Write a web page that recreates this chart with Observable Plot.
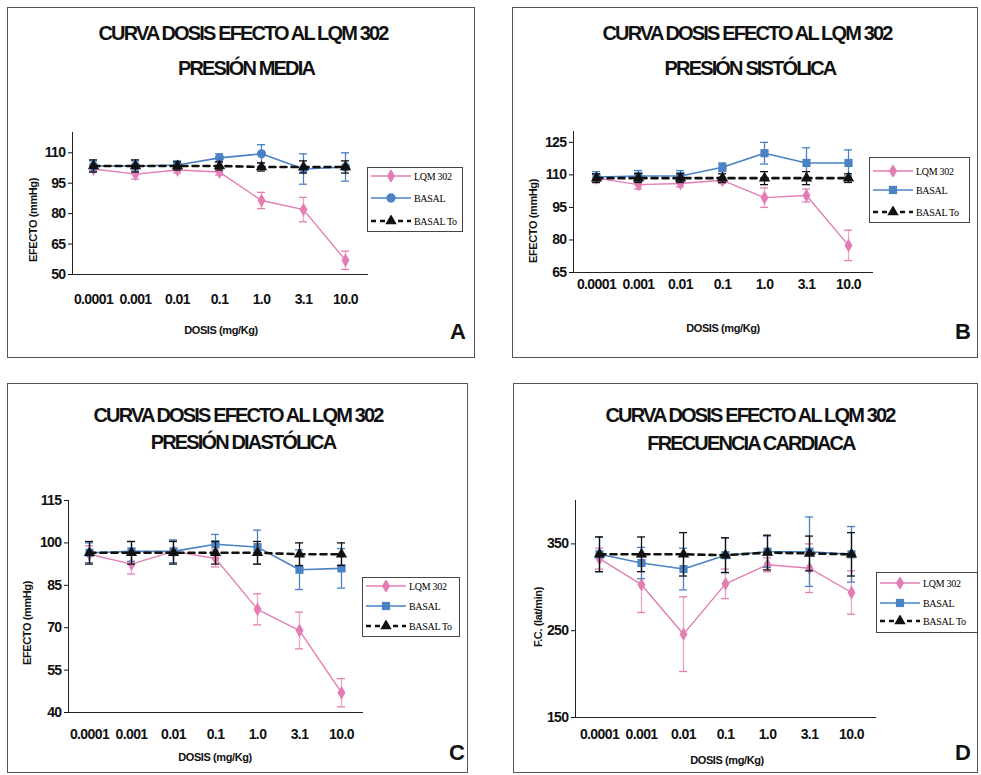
<!DOCTYPE html>
<html><head><meta charset="utf-8">
<script src="https://cdn.jsdelivr.net/npm/d3@7"></script>
<script src="https://cdn.jsdelivr.net/npm/@observablehq/plot@0.6"></script>
<style>
body{margin:0;background:#fff;}
#root{position:relative;width:981px;height:775px;overflow:hidden;font-family:"Liberation Sans",Arial,sans-serif;color:#111;}
.panel{position:absolute;border:1px solid #555;box-sizing:border-box;background:#fff;}
.abs{position:absolute;white-space:nowrap;transform:translate(-50%,-50%);}
.title{font-weight:bold;font-size:20px;letter-spacing:-1.85px;}
.axt{font-weight:bold;font-size:11px;letter-spacing:-0.4px;}
.ylab{transform:translate(-50%,-50%) rotate(-90deg);}
.letter{font-weight:bold;font-size:22px;}
.legend{position:absolute;border:1px solid #444;background:#fff;box-sizing:border-box;}
.legend .row{position:absolute;left:0;height:12px;display:flex;align-items:center;}
.legend .t{font-family:"Liberation Serif","Times New Roman",serif;font-size:10px;letter-spacing:-0.3px;margin-left:2px;color:#000;}
svg.chart{position:absolute;}
</style></head>
<body><div id="root"></div>
<script>
// ---- data ----
const doses = ["0.0001","0.001","0.01","0.1","1.0","3.1","10.0"];
const seriesNames = ["LQM 302","BASAL","BASAL To"];
const titleTop = "CURVA DOSIS EFECTO AL LQM 302";
const subtitles = ["PRESIÓN MEDIA","PRESIÓN SISTÓLICA","PRESIÓN DIASTÓLICA","FRECUENCIA CARDIACA"];
const xTitle = "DOSIS (mg/Kg)";
const yTitles = ["EFECTO (mmHg)","EFECTO (mmHg)","EFECTO (mmHg)","F.C. (lat/min)"];
const panelLetters = ["A","B","C","D"];

// Panel A: presión media
const lqmA = [102, 99.5, 101.5, 100.5, 86.5, 82, 57];
const lqmAErr = [1.5, 2.5, 1.5, 1.5, 4, 6, 4.5];
const basalA = [103.5, 103.5, 104, 107.5, 109.5, 102, 103];
const basalAErr = [2.5, 2.5, 2, 2, 4.5, 7.5, 7];
const toA = [103.5, 103.5, 103.5, 103.5, 103, 103, 103];
const toAErr = [3, 3, 2, 2, 2, 3, 3];
const yTicksA = [50, 65, 80, 95, 110];

// Panel B: presión sistólica
const lqmB = [108.5, 105.5, 106, 107.5, 99.5, 100.5, 77.5];
const lqmBErr = [2, 2, 1.5, 1.5, 4.5, 3, 7];
const basalB = [109, 109.5, 109.5, 113.5, 120, 115.5, 115.5];
const basalBErr = [2.5, 2.5, 2.5, 2, 5, 7, 6];
const toB = [108.5, 108.5, 108.5, 108.5, 108.5, 108.5, 108.5];
const toBErr = [2, 2, 2, 2, 3, 3, 2];
const yTicksB = [65, 80, 95, 110, 125];

// Panel C: presión diastólica
const lqmC = [96, 92.5, 97, 94.5, 76.5, 69, 47];
const lqmCErr = [3, 3.5, 4, 3, 5.5, 6.5, 5];
const basalC = [96.5, 97, 97, 99.5, 98.5, 90.5, 91];
const basalCErr = [3.5, 3.5, 4, 3.5, 6, 7, 7];
const toC = [96.5, 96.5, 96.5, 96.5, 96.5, 96, 96];
const toCErr = [4, 4, 4, 4, 4, 4, 4];
const yTicksC = [40, 55, 70, 85, 100, 115];

// Panel D: frecuencia cardiaca
const lqmD = [333, 303, 246, 304, 326, 322, 294];
const lqmDErr = [12, 32, 43, 17, 8, 28, 25];
const basalD = [338, 328, 321, 337, 341, 341, 338];
const basalDErr = [20, 18, 24, 20, 18, 40, 32];
const toD = [338, 338, 338, 337, 340, 339, 338];
const toDErr = [20, 20, 25, 20, 20, 20, 25];
const yTicksD = [150, 250, 350];

// ---- styles ----
const PINK = "#E37DB4", BLUE = "#4A82C4", BLACK = "#111";
const seriesStyle = [
  {stroke: PINK, width: 1.4, dash: null, symbol: "diamond", r: 4.2},
  {stroke: BLUE, width: 1.6, dash: null, symbol: "square", r: 4.6},
  {stroke: BLACK, width: 2.6, dash: "6,5", symbol: "triangle", r: 4.2}
];

// ---- layout (page coords) ----
const layout = [
  {box:[7,7,475,358], plot:[72,367,132,274], yDomain:[50,120], xPad:20,
   t1:[243,33], t2:[246,68], xt:[221,330], yt:[33,220], letter:[458,332],
   legend:[367,167,463,232], rows:[175,197,220], basalSymbol:"circle"},
  {box:[512,7,978,358], plot:[573,872,131,272], yDomain:[65,130], xPad:7,
   t1:[747,33], t2:[750,68], xt:[723,328], yt:[533,221], letter:[963,332],
   legend:[869,157,970,223], rows:[170,189,211], basalSymbol:"square"},
  {box:[7,383,468,773], plot:[68,362,500,712], yDomain:[40,115], xPad:17,
   t1:[238,415], t2:[243,442], xt:[215,757], yt:[27,623], letter:[457,753],
   legend:[362,577,460,637], rows:[585,605,625], basalSymbol:"square"},
  {box:[513,383,978,773], plot:[575,875,500,717], yDomain:[150,400], xPad:12,
   t1:[750,415], t2:[751,443], xt:[727,760], yt:[538,617], letter:[963,753],
   legend:[876,572,978,633], rows:[582,602,620], basalSymbol:"square"}
];

const panelData = [
  {series:[[lqmA,lqmAErr],[basalA,basalAErr],[toA,toAErr]], ticks:yTicksA},
  {series:[[lqmB,lqmBErr],[basalB,basalBErr],[toB,toBErr]], ticks:yTicksB},
  {series:[[lqmC,lqmCErr],[basalC,basalCErr],[toC,toCErr]], ticks:yTicksC},
  {series:[[lqmD,lqmDErr],[basalD,basalDErr],[toD,toDErr]], ticks:yTicksD}
];

const root = document.getElementById("root");

function addDiv(cls, text, x, y){
  const d = document.createElement("div");
  d.className = "abs " + cls;
  d.textContent = text;
  d.style.left = x + "px"; d.style.top = y + "px";
  root.appendChild(d);
  return d;
}

function swatch(st, symbol){
  const ns = "http://www.w3.org/2000/svg";
  const s = document.createElementNS(ns, "svg");
  s.setAttribute("width", 44); s.setAttribute("height", 12);
  const l = document.createElementNS(ns, "line");
  l.setAttribute("x1", 3); l.setAttribute("x2", 43); l.setAttribute("y1", 6); l.setAttribute("y2", 6);
  l.setAttribute("stroke", st.stroke); l.setAttribute("stroke-width", st.width);
  if (st.dash) l.setAttribute("stroke-dasharray", "5,4");
  s.appendChild(l);
  const sym = d3.symbol().type({circle:d3.symbolCircle, square:d3.symbolSquare, diamond:d3.symbolDiamond, triangle:d3.symbolTriangle}[symbol]).size(st.r*st.r*3.2);
  const p = document.createElementNS(ns, "path");
  p.setAttribute("d", sym()); p.setAttribute("transform", "translate(23,6)");
  p.setAttribute("fill", st.stroke);
  s.appendChild(p);
  return s;
}

layout.forEach((L, k) => {
  const P = panelData[k];
  const pan = document.createElement("div");
  pan.className = "panel";
  pan.style.left = L.box[0] + "px"; pan.style.top = L.box[1] + "px";
  pan.style.width = (L.box[2]-L.box[0]) + "px"; pan.style.height = (L.box[3]-L.box[1]) + "px";
  root.appendChild(pan);

  const W = L.box[2]-L.box[0], H = L.box[3]-L.box[1];
  const marks = [];
  const symbols = ["diamond", L.basalSymbol, "triangle"];
  P.series.forEach(([vals, errs], si) => {
    const st = seriesStyle[si];
    const rows = doses.map((d, i) => ({dose: d, v: vals[i], e: errs[i], s: seriesNames[si]}));
    marks.push(
      Plot.ruleX(rows, {x: "dose", y1: d => d.v - d.e, y2: d => d.v + d.e, stroke: st.stroke, strokeWidth: 1.3, strokeOpacity: si === 0 ? 0.7 : 1}),
      Plot.tickY(rows, {x: "dose", y: d => d.v + d.e, stroke: st.stroke, strokeWidth: 1.3}),
      Plot.tickY(rows, {x: "dose", y: d => d.v - d.e, stroke: st.stroke, strokeWidth: 1.3}),
      Plot.lineY(rows, {x: "dose", y: "v", stroke: st.stroke, strokeWidth: st.width, strokeDasharray: st.dash}),
      Plot.dot(rows, {x: "dose", y: "v", symbol: symbols[si], fill: st.stroke, r: st.r})
    );
  });

  const svg = Plot.plot({
    width: W, height: H,
    marginLeft: L.plot[0]-L.box[0], marginRight: L.box[2]-L.plot[1],
    marginTop: L.plot[2]-L.box[1], marginBottom: L.box[3]-L.plot[3],
    x: {type: "band", domain: doses, paddingInner: 0.8, paddingOuter: 0.4},
    y: {domain: L.yDomain},
    style: {fontFamily: "'Liberation Sans', Arial, sans-serif", fontSize: "14px", fontWeight: "bold", letterSpacing: "-0.6px", color: "#111", background: "transparent", overflow: "visible"},
    marks: [
      Plot.frame({anchor: "left", stroke: "#222"}),
      Plot.frame({anchor: "bottom", stroke: "#222"}),
      Plot.axisX({tickSize: 0, tickPadding: L.xPad, label: null}),
      Plot.axisY({ticks: P.ticks, tickSize: 4, tickPadding: 3, label: null}),
      ...marks
    ]
  });
  svg.classList.add("chart");
  svg.style.left = L.box[0] + "px"; svg.style.top = L.box[1] + "px";
  root.appendChild(svg);

  addDiv("title", titleTop, L.t1[0], L.t1[1]);
  addDiv("title", subtitles[k], L.t2[0], L.t2[1]);
  addDiv("axt", xTitle, L.xt[0], L.xt[1]);
  addDiv("axt ylab", yTitles[k], L.yt[0], L.yt[1]);
  addDiv("letter", panelLetters[k], L.letter[0], L.letter[1]);

  const lg = document.createElement("div");
  lg.className = "legend";
  lg.style.left = L.legend[0] + "px"; lg.style.top = L.legend[1] + "px";
  lg.style.width = (L.legend[2]-L.legend[0]) + "px"; lg.style.height = (L.legend[3]-L.legend[1]) + "px";
  seriesNames.forEach((name, si) => {
    const row = document.createElement("div");
    row.className = "row";
    row.style.top = (L.rows[si] - L.legend[1] - 6) + "px";
    row.appendChild(swatch(seriesStyle[si], symbols[si]));
    const t = document.createElement("span");
    t.className = "t"; t.textContent = name;
    row.appendChild(t);
    lg.appendChild(row);
  });
  root.appendChild(lg);
});
</script>
</body></html>
